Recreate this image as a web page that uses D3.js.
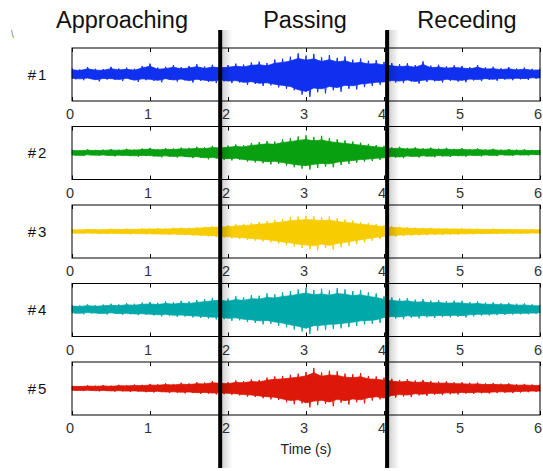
<!DOCTYPE html>
<html>
<head>
<meta charset="utf-8">
<script src="https://cdn.jsdelivr.net/npm/d3@7"></script>
<style>
  body { margin: 0; background: #fff; }
  text { font-family: "Liberation Sans", Arial, sans-serif; }
</style>
</head>
<body>
<div id="chart"></div>
<script>
// time axis (s)
var ticks = [0, 1, 2, 3, 4, 5, 6];
var phases = ["Approaching", "Passing", "Receding"];
var phaseBounds = [1.9, 4.04];
var labels = ["#1", "#2", "#3", "#4", "#5"];
var colors = ["#1030f0", "#08a010", "#f7cc00", "#00a8aa", "#dd1808"];

// envelope every 0.1 s (fraction of half height)
var up1 = [0.22,0.18,0.26,0.20,0.19,0.27,0.21,0.24,0.20,0.30,
  0.38,0.24,0.27,0.33,0.26,0.30,0.36,0.28,0.34,0.31,
  0.33,0.38,0.35,0.42,0.45,0.40,0.52,0.55,0.62,0.74,
  0.66,0.72,0.60,0.68,0.58,0.63,0.52,0.56,0.48,0.50,
  0.44,0.40,0.36,0.39,0.33,0.46,0.31,0.34,0.29,0.32,
  0.30,0.26,0.33,0.25,0.27,0.22,0.26,0.21,0.24,0.20,0.21];
var lo1 = [0.17,0.20,0.16,0.24,0.18,0.19,0.23,0.17,0.26,0.20,
  0.22,0.27,0.19,0.25,0.21,0.28,0.22,0.26,0.30,0.24,
  0.30,0.28,0.36,0.33,0.40,0.38,0.45,0.50,0.55,0.70,
  0.78,0.62,0.66,0.55,0.60,0.50,0.52,0.44,0.40,0.36,
  0.34,0.28,0.30,0.25,0.32,0.26,0.24,0.28,0.22,0.25,
  0.27,0.21,0.23,0.19,0.22,0.18,0.20,0.17,0.19,0.15,0.16];
var up2 = [0.12,0.10,0.13,0.11,0.12,0.14,0.12,0.15,0.13,0.16,
  0.18,0.14,0.17,0.16,0.19,0.18,0.22,0.20,0.25,0.23,
  0.26,0.30,0.28,0.35,0.38,0.42,0.40,0.48,0.52,0.58,
  0.62,0.56,0.60,0.52,0.48,0.44,0.40,0.36,0.32,0.28,
  0.25,0.20,0.22,0.18,0.20,0.17,0.19,0.16,0.18,0.15,
  0.17,0.14,0.16,0.13,0.15,0.12,0.14,0.12,0.13,0.11,0.12];
var lo2 = [0.09,0.11,0.08,0.10,0.09,0.12,0.10,0.11,0.13,0.11,
  0.12,0.15,0.13,0.16,0.14,0.18,0.17,0.22,0.20,0.24,
  0.26,0.24,0.30,0.33,0.36,0.40,0.38,0.44,0.50,0.55,
  0.58,0.52,0.48,0.50,0.42,0.38,0.34,0.30,0.28,0.24,
  0.22,0.16,0.18,0.14,0.16,0.13,0.15,0.12,0.14,0.11,
  0.13,0.10,0.12,0.09,0.11,0.08,0.10,0.08,0.09,0.07,0.08];
var up3 = [0.08,0.07,0.09,0.08,0.08,0.10,0.09,0.10,0.09,0.11,
  0.11,0.12,0.11,0.13,0.14,0.13,0.15,0.17,0.19,0.20,
  0.22,0.25,0.27,0.30,0.33,0.36,0.40,0.44,0.50,0.52,
  0.55,0.53,0.50,0.52,0.46,0.42,0.38,0.33,0.30,0.26,
  0.22,0.18,0.17,0.15,0.14,0.13,0.13,0.12,0.12,0.11,
  0.11,0.10,0.10,0.09,0.10,0.09,0.09,0.08,0.08,0.08,0.08];
var lo3 = [0.07,0.08,0.07,0.08,0.09,0.08,0.09,0.10,0.09,0.10,
  0.10,0.11,0.12,0.12,0.13,0.14,0.16,0.17,0.19,0.21,
  0.24,0.26,0.29,0.32,0.35,0.38,0.42,0.48,0.52,0.58,
  0.62,0.66,0.58,0.64,0.55,0.50,0.44,0.38,0.32,0.27,
  0.22,0.18,0.16,0.15,0.14,0.13,0.12,0.12,0.11,0.11,
  0.10,0.10,0.09,0.09,0.09,0.08,0.08,0.08,0.08,0.07,0.07];
var up4 = [0.18,0.16,0.20,0.17,0.19,0.22,0.20,0.24,0.22,0.26,
  0.28,0.25,0.30,0.27,0.32,0.30,0.35,0.38,0.42,0.45,
  0.40,0.48,0.44,0.52,0.50,0.58,0.55,0.62,0.66,0.72,
  0.78,0.70,0.74,0.68,0.76,0.72,0.66,0.70,0.62,0.58,
  0.48,0.44,0.40,0.42,0.36,0.38,0.33,0.35,0.31,0.33,
  0.32,0.28,0.30,0.26,0.27,0.24,0.25,0.22,0.23,0.20,0.19];
var lo4 = [0.13,0.15,0.12,0.14,0.16,0.13,0.17,0.15,0.18,0.17,
  0.19,0.22,0.20,0.24,0.23,0.26,0.28,0.30,0.33,0.32,
  0.38,0.36,0.42,0.45,0.50,0.48,0.55,0.60,0.68,0.75,
  0.84,0.72,0.70,0.66,0.64,0.60,0.56,0.50,0.48,0.45,
  0.34,0.30,0.32,0.27,0.29,0.26,0.28,0.25,0.26,0.24,
  0.26,0.22,0.20,0.19,0.18,0.17,0.16,0.15,0.15,0.14,0.13];
var up5 = [0.10,0.09,0.11,0.10,0.12,0.10,0.13,0.12,0.14,0.13,
  0.16,0.15,0.18,0.16,0.20,0.18,0.22,0.21,0.26,0.24,
  0.22,0.28,0.26,0.32,0.30,0.38,0.42,0.44,0.48,0.52,
  0.58,0.72,0.56,0.62,0.60,0.52,0.50,0.54,0.44,0.42,
  0.38,0.34,0.30,0.33,0.28,0.30,0.26,0.24,0.25,0.22,
  0.22,0.20,0.21,0.18,0.19,0.17,0.18,0.15,0.16,0.14,0.14];
var lo5 = [0.08,0.09,0.08,0.10,0.09,0.11,0.10,0.12,0.11,0.13,
  0.14,0.13,0.16,0.15,0.17,0.16,0.19,0.18,0.21,0.20,
  0.22,0.24,0.28,0.30,0.34,0.38,0.40,0.48,0.55,0.52,
  0.66,0.58,0.54,0.62,0.50,0.56,0.48,0.52,0.42,0.38,
  0.44,0.32,0.28,0.30,0.24,0.26,0.22,0.23,0.20,0.21,
  0.18,0.19,0.17,0.18,0.16,0.15,0.16,0.14,0.13,0.12,0.12];

var uppers = [up1, up2, up3, up4, up5];
var lowers = [lo1, lo2, lo3, lo4, lo5];

var W = 543, H = 471;
var svg = d3.select("#chart").append("svg")
    .attr("width", W)
    .attr("height", H);

var x = d3.scaleLinear().domain([0, 6]).range([72, 540]);
var panelTop = 48, panelStep = 78.5, panelH = 53;
var core = 0.82;   // solid band relative to envelope
var tip = 1.08;    // spike tips relative to envelope

// phase titles
svg.selectAll(".phase").data(phases).enter().append("text")
    .attr("class", "phase")
    .attr("x", function (d, i) { return [122, 305, 467][i]; })
    .attr("y", 28)
    .attr("text-anchor", "middle")
    .attr("font-size", 23.5)
    .attr("fill", "#111")
    .text(function (d) { return d; });

// stray mark at top-left
svg.append("text")
    .attr("x", 11).attr("y", 38)
    .attr("font-size", 10).attr("fill", "#777")
    .text("\\");

labels.forEach(function (lab, i) {
    var top = panelTop + i * panelStep;
    var y = d3.scaleLinear().domain([-1, 1]).range([top + panelH, top]);
    var g = svg.append("g");

    var pts = uppers[i].map(function (u, k) {
        return {t: k * 0.1, u: u, l: lowers[i][k]};
    });

    // solid band
    var area = d3.area()
        .x(function (d) { return x(d.t); })
        .y0(function (d) { return y(-d.l * core); })
        .y1(function (d) { return y(d.u * core); });
    g.append("path")
        .datum(pts)
        .attr("d", area)
        .attr("fill", colors[i])
        .attr("stroke", colors[i])
        .attr("stroke-width", 0.8);

    // spikes: zigzag between upper and lower tips
    var zig = [];
    pts.forEach(function (d, k) {
        zig.push([x(d.t), y(d.u * tip)]);
        if (k < pts.length - 1) zig.push([x(d.t + 0.05), y(-d.l * tip)]);
    });
    g.append("path")
        .attr("d", d3.line()(zig))
        .attr("fill", "none")
        .attr("stroke", colors[i])
        .attr("stroke-width", 1);

    // frame
    g.append("rect")
        .attr("x", x(0)).attr("y", top)
        .attr("width", x(6) - x(0)).attr("height", panelH)
        .attr("fill", "none")
        .attr("stroke", "#000")
        .attr("stroke-width", 1);

    // inward ticks
    g.append("g")
        .attr("transform", "translate(0," + (top + panelH) + ")")
        .call(d3.axisBottom(x).tickValues(ticks).tickSizeInner(-4).tickSizeOuter(0).tickFormat(""))
        .call(function (a) { a.select(".domain").remove(); });
    g.append("g")
        .attr("transform", "translate(0," + top + ")")
        .call(d3.axisTop(x).tickValues(ticks).tickSizeInner(-4).tickSizeOuter(0).tickFormat(""))
        .call(function (a) { a.select(".domain").remove(); });

    // tick labels
    g.selectAll(".tl").data(ticks).enter().append("text")
        .attr("x", function (d) { return x(d) - 2; })
        .attr("y", top + panelH + 18)
        .attr("text-anchor", "middle")
        .attr("font-size", 14.5)
        .attr("fill", "#333")
        .text(function (d) { return d; });

    // panel label
    g.append("text")
        .attr("x", 38).attr("y", top + panelH / 2 + 5)
        .attr("text-anchor", "middle")
        .attr("font-size", 15)
        .attr("letter-spacing", 2)
        .attr("fill", "#111")
        .text(lab);
});

svg.append("text")
    .attr("x", x(3)).attr("y", 454)
    .attr("text-anchor", "middle")
    .attr("font-size", 14)
    .attr("fill", "#222")
    .text("Time (s)");

// phase boundary lines with soft shadow
var defs = svg.append("defs");
var grad = defs.append("linearGradient").attr("id", "shade");
grad.append("stop").attr("offset", "0%").attr("stop-color", "#000").attr("stop-opacity", 0.18);
grad.append("stop").attr("offset", "100%").attr("stop-color", "#000").attr("stop-opacity", 0);

phaseBounds.forEach(function (b) {
    svg.append("rect")
        .attr("x", x(b) + 2).attr("y", 30)
        .attr("width", 10).attr("height", 438)
        .attr("fill", "url(#shade)");
    svg.append("line")
        .attr("x1", x(b)).attr("x2", x(b))
        .attr("y1", 30).attr("y2", 468)
        .attr("stroke", "#000")
        .attr("stroke-width", 4);
});
</script>
</body>
</html>
